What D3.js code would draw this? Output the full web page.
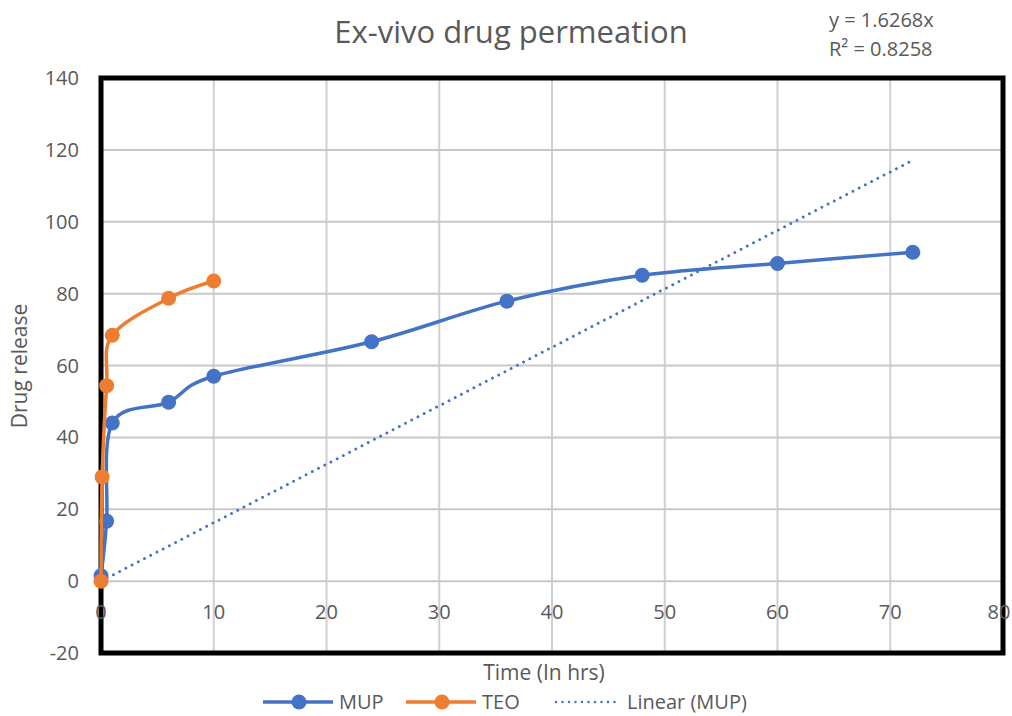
<!DOCTYPE html>
<html>
<head>
<meta charset="utf-8">
<script src="https://cdn.jsdelivr.net/npm/d3@7"></script>
<style>
  body { margin: 0; background: #fff; }
  svg { display: block; font-family: 'Open Sans', sans-serif; }
</style>
</head>
<body>
<svg width="1012" height="716"></svg>
<script>
// MUP series (time in hrs, drug release)
const mupTime = [0, 0.5, 1, 6, 10, 24, 36, 48, 60, 72];
const mupRelease = [1.5, 16.7, 44.0, 49.8, 57.0, 66.6, 77.9, 85.1, 88.4, 91.5];

// TEO series
const teoTime = [0, 0.1, 0.5, 1, 6, 10];
const teoRelease = [0, 29.0, 54.4, 68.4, 78.7, 83.5];

// linear trendline for MUP (through origin)
const trendSlope = 1.6268;
const trendR2 = 0.8258;
const trendRange = [0, 72];

const xTicks = [0, 10, 20, 30, 40, 50, 60, 70, 80];
const yTicks = [-20, 0, 20, 40, 60, 80, 100, 120, 140];

const blue = '#4472C4';
const orange = '#ED7D31';
const textGray = '#595959';

// plot area edges (window.top is taken, so own names)
const plotLeft = 101, plotRight = 1003, plotTop = 78, plotBottom = 653;

const xScale = d3.scaleLinear().domain([0, 80]).range([plotLeft, plotRight]);
const yScale = d3.scaleLinear().domain([-20, 140]).range([plotBottom, plotTop]);

const svg = d3.select('svg');

// title
svg.append('text')
    .attr('x', 511)
    .attr('y', 43)
    .attr('text-anchor', 'middle')
    .attr('font-size', 31)
    .attr('fill', textGray)
    .text('Ex-vivo drug permeation');

// trendline equation
const eq = svg.append('text')
    .attr('font-size', 20)
    .attr('fill', textGray);
eq.append('tspan').attr('x', 829).attr('y', 27).text('y = ' + trendSlope + 'x');
eq.append('tspan').attr('x', 829).attr('y', 56).text('R² = ' + trendR2);

// gridlines
svg.append('g')
    .selectAll('line')
    .data(xTicks.slice(1, -1))
    .enter()
    .append('line')
    .attr('x1', d => xScale(d))
    .attr('x2', d => xScale(d))
    .attr('y1', plotTop)
    .attr('y2', plotBottom)
    .attr('stroke', '#d0d0d0')
    .attr('stroke-width', 2);

svg.append('g')
    .selectAll('line')
    .data(yTicks.slice(1, -1))
    .enter()
    .append('line')
    .attr('x1', plotLeft)
    .attr('x2', plotRight)
    .attr('y1', d => yScale(d))
    .attr('y2', d => yScale(d))
    .attr('stroke', '#c8c8c8')
    .attr('stroke-width', 2);

// plot border
svg.append('rect')
    .attr('x', plotLeft)
    .attr('y', plotTop)
    .attr('width', plotRight - plotLeft)
    .attr('height', plotBottom - plotTop)
    .attr('fill', 'none')
    .attr('stroke', '#000')
    .attr('stroke-width', 5);

// tick labels
svg.append('g')
    .selectAll('text')
    .data(yTicks)
    .enter()
    .append('text')
    .attr('x', 79)
    .attr('y', d => yScale(d) + 7)
    .attr('text-anchor', 'end')
    .attr('font-size', 20)
    .attr('fill', textGray)
    .text(d => d);

// last x label sits on the right border, keep it inside the page
svg.append('g')
    .selectAll('text')
    .data(xTicks)
    .enter()
    .append('text')
    .attr('x', d => Math.min(xScale(d), 999))
    .attr('y', 619)
    .attr('text-anchor', 'middle')
    .attr('font-size', 20)
    .attr('fill', textGray)
    .text(d => d);

// axis titles
svg.append('text')
    .attr('x', 544)
    .attr('y', 680)
    .attr('text-anchor', 'middle')
    .attr('font-size', 21)
    .attr('fill', textGray)
    .text('Time (In hrs)');

svg.append('text')
    .attr('transform', 'translate(27,366) rotate(-90)')
    .attr('text-anchor', 'middle')
    .attr('font-size', 21)
    .attr('fill', textGray)
    .text('Drug release');

// trendline
svg.append('line')
    .attr('x1', xScale(trendRange[0]))
    .attr('y1', yScale(trendSlope * trendRange[0]))
    .attr('x2', xScale(trendRange[1]))
    .attr('y2', yScale(trendSlope * trendRange[1]))
    .attr('stroke', blue)
    .attr('stroke-width', 3)
    .attr('stroke-linecap', 'round')
    .attr('stroke-dasharray', '0 7');

// series
const line = d3.line()
    .x(d => xScale(d[0]))
    .y(d => yScale(d[1]))
    .curve(d3.curveCardinal.tension(0));

const series = [
    {name: 'MUP', color: blue, points: d3.zip(mupTime, mupRelease)},
    {name: 'TEO', color: orange, points: d3.zip(teoTime, teoRelease)}
];

series.forEach(s => {
    svg.append('path')
        .datum(s.points)
        .attr('d', line)
        .attr('fill', 'none')
        .attr('stroke', s.color)
        .attr('stroke-width', 3.5);
    svg.append('g')
        .selectAll('circle')
        .data(s.points)
        .enter()
        .append('circle')
        .attr('cx', d => xScale(d[0]))
        .attr('cy', d => yScale(d[1]))
        .attr('r', 7.5)
        .attr('fill', s.color);
});

// legend
const legend = svg.append('g').attr('transform', 'translate(0,702)');
const legendItems = [
    {label: 'MUP', color: blue, x: 263, marker: true},
    {label: 'TEO', color: orange, x: 406, marker: true},
    {label: 'Linear (MUP)', color: blue, x: 556, marker: false}
];
legendItems.forEach(item => {
    if (item.marker) {
        legend.append('line')
            .attr('x1', item.x).attr('x2', item.x + 70)
            .attr('y1', 0).attr('y2', 0)
            .attr('stroke', item.color)
            .attr('stroke-width', 3.5);
        legend.append('circle')
            .attr('cx', item.x + 36).attr('cy', 0)
            .attr('r', 7.5)
            .attr('fill', item.color);
    } else {
        legend.append('line')
            .attr('x1', item.x).attr('x2', item.x + 62)
            .attr('y1', 0).attr('y2', 0)
            .attr('stroke', item.color)
            .attr('stroke-width', 2.5)
            .attr('stroke-linecap', 'round')
            .attr('stroke-dasharray', '0 6.5');
    }
    legend.append('text')
        .attr('x', item.x + (item.marker ? 76 : 71))
        .attr('y', 7)
        .attr('font-size', 20)
        .attr('fill', textGray)
        .text(item.label);
});
</script>
</body>
</html>
